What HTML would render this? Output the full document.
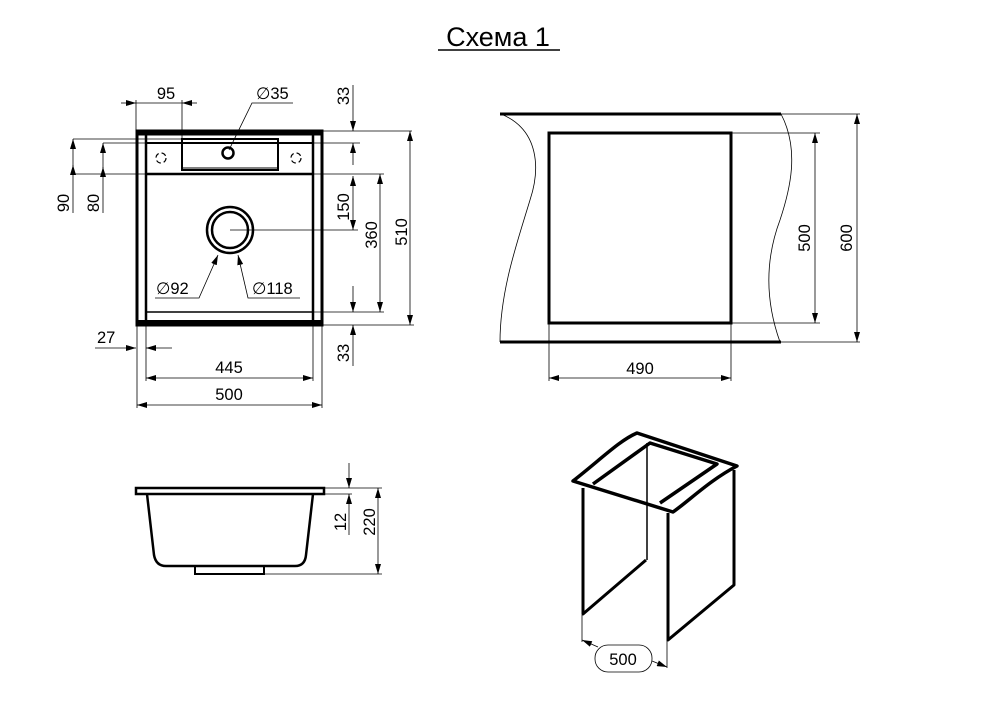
<!DOCTYPE html>
<html><head><meta charset="utf-8"><style>
html,body{margin:0;padding:0;background:#fff;}
svg{display:block;font-family:"Liberation Sans",Arial,sans-serif;}
</style></head><body>
<svg width="1000" height="723" viewBox="0 0 1000 723" xmlns="http://www.w3.org/2000/svg">
<defs>
<marker id="a" viewBox="0 0 10 6" refX="10" refY="3" markerWidth="10" markerHeight="6" orient="auto-start-reverse" markerUnits="userSpaceOnUse"><path d="M0,0L10,3L0,6z" fill="#000"/></marker>
</defs>
<text x="498" y="46" font-size="27" text-anchor="middle">Схема 1</text>
<line x1="438" y1="50" x2="560" y2="50" stroke="#000" stroke-width="1.5"/>

<!-- Top-left plan -->
<g fill="none" stroke="#000">
<rect x="137" y="131" width="185" height="194" stroke-width="3"/>
<line x1="146" y1="131" x2="146" y2="325" stroke-width="2.5"/>
<line x1="313" y1="131" x2="313" y2="325" stroke-width="2.5"/>
<line x1="137" y1="134" x2="322" y2="134" stroke-width="3"/>
<line x1="146" y1="143" x2="313" y2="143" stroke-width="2"/>
<line x1="146" y1="174" x2="313" y2="174" stroke-width="2.5"/>
<rect x="182" y="139" width="96" height="31" stroke-width="2"/>
<line x1="182" y1="168" x2="278" y2="168" stroke-width="1"/>
<circle cx="228" cy="153" r="5.5" stroke-width="2.5"/>
<circle cx="161" cy="158" r="5" stroke-width="1.2" stroke-dasharray="5 3"/>
<circle cx="296" cy="158" r="5" stroke-width="1.2" stroke-dasharray="5 3"/>
<line x1="146" y1="312" x2="313" y2="312" stroke-width="1.5"/>
<line x1="137" y1="322" x2="322" y2="322" stroke-width="4"/>
<circle cx="230" cy="230" r="23" stroke-width="2.5"/>
<circle cx="230" cy="230" r="18" stroke-width="2.5"/>
</g>
<g fill="none" stroke="#000" stroke-width="0.8">
<line x1="136" y1="100" x2="136" y2="131"/><line x1="182" y1="100" x2="182" y2="139"/>
<line x1="121" y1="103" x2="136" y2="103" marker-end="url(#a)"/><line x1="197" y1="103" x2="182" y2="103" marker-end="url(#a)"/>
<line x1="136" y1="103" x2="182" y2="103"/>
<polyline points="229,150 252,103 293,103"/>
<line x1="322" y1="131" x2="412" y2="131"/><line x1="313" y1="143" x2="360" y2="143"/>
<line x1="353" y1="85" x2="353" y2="131" marker-end="url(#a)"/>
<line x1="353" y1="165" x2="353" y2="143" marker-end="url(#a)"/>
<line x1="313" y1="174" x2="384" y2="174"/>
<line x1="230" y1="230" x2="358" y2="230"/>
<line x1="353" y1="176" x2="353" y2="230" marker-start="url(#a)" marker-end="url(#a)"/>
<line x1="380" y1="174" x2="380" y2="312" marker-start="url(#a)" marker-end="url(#a)"/>
<line x1="313" y1="312" x2="384" y2="312"/>
<line x1="410" y1="131" x2="410" y2="325" marker-start="url(#a)" marker-end="url(#a)"/>
<line x1="322" y1="325" x2="414" y2="325"/>
<line x1="353" y1="286" x2="353" y2="312" marker-end="url(#a)"/>
<line x1="353" y1="366" x2="353" y2="325" marker-end="url(#a)"/>
<line x1="73" y1="139" x2="182" y2="139"/><line x1="103" y1="143" x2="146" y2="143"/>
<line x1="73" y1="174" x2="146" y2="174"/>
<line x1="73" y1="139" x2="73" y2="213" marker-start="url(#a)"/>
<line x1="73" y1="174" x2="73" y2="165" marker-end="url(#a)"/>
<line x1="103" y1="143" x2="103" y2="213" marker-start="url(#a)"/>
<line x1="103" y1="174" x2="103" y2="167" marker-end="url(#a)"/>
<line x1="95" y1="348" x2="136" y2="348" marker-end="url(#a)"/>
<line x1="172" y1="348" x2="146" y2="348" marker-end="url(#a)"/>
<line x1="137" y1="325" x2="137" y2="408"/><line x1="146" y1="325" x2="146" y2="381"/>
<line x1="313" y1="325" x2="313" y2="381"/><line x1="322" y1="325" x2="322" y2="408"/>
<line x1="146" y1="378" x2="313" y2="378" marker-start="url(#a)" marker-end="url(#a)"/>
<line x1="137" y1="405" x2="322" y2="405" marker-start="url(#a)" marker-end="url(#a)"/>
<polyline points="155,298 199,298 218,255" marker-end="url(#a)"/>
<polyline points="300,298 248,298 238,255" marker-end="url(#a)"/>
</g>
<g font-size="16.5">
<text x="166" y="99" text-anchor="middle">95</text>
<text x="256" y="99">∅35</text>
<text x="156" y="294">∅92</text>
<text x="252" y="294">∅118</text>
<text x="97" y="343">27</text>
<text x="229" y="373" text-anchor="middle">445</text>
<text x="229" y="400" text-anchor="middle">500</text>
<text transform="translate(349,96) rotate(-90)" text-anchor="middle">33</text>
<text transform="translate(349,207) rotate(-90)" text-anchor="middle">150</text>
<text transform="translate(377,235) rotate(-90)" text-anchor="middle">360</text>
<text transform="translate(407,232) rotate(-90)" text-anchor="middle">510</text>
<text transform="translate(349,353) rotate(-90)" text-anchor="middle">33</text>
<text transform="translate(69,203) rotate(-90)" text-anchor="middle">90</text>
<text transform="translate(99,203) rotate(-90)" text-anchor="middle">80</text>
</g>

<g fill="none" stroke="#000">
<line x1="500" y1="114" x2="781" y2="114" stroke-width="3"/>
<line x1="500" y1="342" x2="781" y2="342" stroke-width="3"/>
<rect x="549" y="133" width="182" height="190" stroke-width="3"/>
<path d="M501,114 C540,130 540,170 530,200 C518,240 500,290 500,342" stroke-width="0.8"/>
<path d="M781,114 C800,150 790,190 780,220 C765,260 765,300 780,342" stroke-width="0.8"/>
</g>
<g fill="none" stroke="#000" stroke-width="0.8">
<line x1="781" y1="114" x2="860" y2="114"/><line x1="781" y1="342" x2="860" y2="342"/>
<line x1="857" y1="114" x2="857" y2="342" marker-start="url(#a)" marker-end="url(#a)"/>
<line x1="731" y1="133" x2="820" y2="133"/><line x1="731" y1="323" x2="820" y2="323"/>
<line x1="815" y1="133" x2="815" y2="323" marker-start="url(#a)" marker-end="url(#a)"/>
<line x1="549" y1="323" x2="549" y2="381"/><line x1="731" y1="323" x2="731" y2="381"/>
<line x1="549" y1="378" x2="731" y2="378" marker-start="url(#a)" marker-end="url(#a)"/>
</g>
<g font-size="16.5">
<text x="640" y="374" text-anchor="middle">490</text>
<text transform="translate(810,238) rotate(-90)" text-anchor="middle">500</text>
<text transform="translate(852,238) rotate(-90)" text-anchor="middle">600</text>
</g>

<g fill="none" stroke="#000">
<rect x="136" y="488" width="188" height="6" stroke-width="2.5"/>
<path d="M147,494 L154,555 Q156,566 166,566 L295,566 Q305,566 306,555 L313,494" stroke-width="2.5"/>
<rect x="195" y="566" width="69" height="8" stroke-width="2"/>
</g>
<g fill="none" stroke="#000" stroke-width="0.8">
<line x1="324" y1="488" x2="382" y2="488"/><line x1="324" y1="494" x2="352" y2="494"/>
<line x1="264" y1="574" x2="382" y2="574"/>
<line x1="349" y1="463" x2="349" y2="488" marker-end="url(#a)"/>
<line x1="349" y1="535" x2="349" y2="494" marker-end="url(#a)"/>
<line x1="378" y1="488" x2="378" y2="574" marker-start="url(#a)" marker-end="url(#a)"/>
</g>
<g font-size="16.5">
<text transform="translate(346,522) rotate(-90)" text-anchor="middle">12</text>
<text transform="translate(375,522) rotate(-90)" text-anchor="middle">220</text>
</g>

<g fill="none" stroke="#000" stroke-linejoin="round">
<path d="M573,481 C600,460 620,440 637,433 L737,466 C710,480 690,500 673,512 Z" stroke-width="3.5"/>
<path d="M593,484 L650,443 L717,464 L660,503" stroke-width="3.5"/>
<line x1="647" y1="443" x2="647" y2="560" stroke-width="1.5"/>
<path d="M583,488 L583,614 L646,560" stroke-width="3"/>
<path d="M668,513 L668,640 L734,585 L734,470" stroke-width="3"/>
</g>
<g fill="none" stroke="#000" stroke-width="0.8">
<line x1="582" y1="615" x2="582" y2="642"/><line x1="667" y1="640" x2="667" y2="668"/>
<line x1="582" y1="640" x2="598" y2="647" marker-start="url(#a)"/>
<line x1="652" y1="661" x2="667" y2="667" marker-end="url(#a)"/>
<rect x="595" y="645" width="57" height="27" rx="13"/>
</g>
<text x="623" y="665" font-size="16.5" text-anchor="middle">500</text>
</svg>
</body></html>
